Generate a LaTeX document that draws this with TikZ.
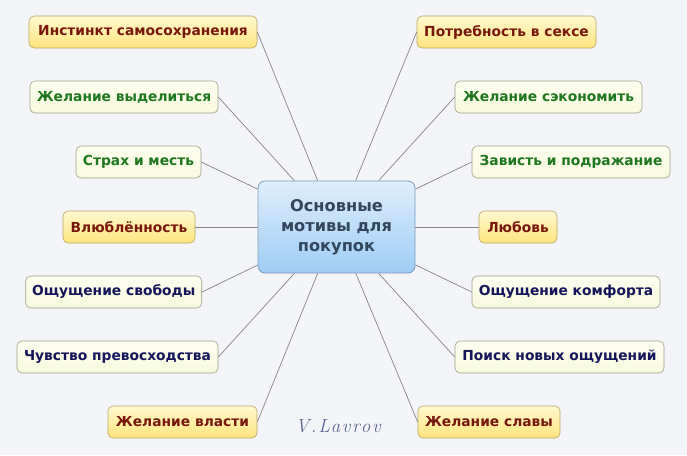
\documentclass[tikz,border=0pt]{standalone}
\usepackage{fontspec}
\setmainfont{DejaVu Sans}
\newfontfamily\signfont[LetterSpace=9]{Latin Modern Roman}
\usepackage{tikz}
\usepackage{xcolor}

\definecolor{paper}{HTML}{F3F5F8}
\definecolor{wire}{HTML}{858585}
\definecolor{motivered}{HTML}{7A170C}
\definecolor{motivegreen}{HTML}{1E781E}
\definecolor{motivenavy}{HTML}{15155C}
\definecolor{centertext}{HTML}{33475C}

\begin{document}
\begin{tikzpicture}[x=1pt,y=-1pt,line width=0.7pt]
\tikzstyle{leaf}=[rounded corners=5pt,minimum height=32pt,inner xsep=0pt,
  font=\fontsize{13.8}{16}\selectfont\bfseries,line width=0.6pt]
\tikzstyle{hot}=[leaf,draw={rgb,255:red,185;green,165;blue,105},
  top color={rgb,255:red,255;green,249;blue,208},
  bottom color={rgb,255:red,255;green,228;blue,125},text=motivered]
\tikzstyle{mild}=[leaf,draw={rgb,255:red,160;green,160;blue,135},
  top color={rgb,255:red,254;green,254;blue,240},
  bottom color={rgb,255:red,247;green,250;blue,220}]
\tikzstyle{mainbox}=[rounded corners=7pt,minimum width=157pt,minimum height=92pt,
  align=center,draw={rgb,255:red,120;green,155;blue,190},line width=0.8pt,
  top color={rgb,255:red,222;green,238;blue,252},
  bottom color={rgb,255:red,160;green,204;blue,244},
  text=centertext,font=\fontsize{16.2}{20}\selectfont\bfseries]

\fill[paper] (0,0) rectangle (687,455);
\useasboundingbox (0,0) rectangle (687,455);

\node[mainbox] (C) at (336.5,227) {Основные\\мотивы для\\покупок};

% left side
\node[hot,minimum width=228pt]                  (inst)  at (143,32)    {Инстинкт самосохранения};
\node[mild,minimum width=188pt,text=motivegreen] (vydel) at (124,97)    {Желание выделиться};
\node[mild,minimum width=125pt,text=motivegreen] (strah) at (138.5,162) {Страх и месть};
\node[hot,minimum width=132pt]                  (vlub)  at (129,227)   {Влюблённость};
\node[mild,minimum width=176pt,text=motivenavy]  (svob)  at (113.7,292) {Ощущение свободы};
\node[mild,minimum width=201pt,text=motivenavy]  (prev)  at (117.5,357) {Чувство превосходства};
\node[hot,minimum width=149pt]                  (vlast) at (182.5,422) {Желание власти};

% right side
\node[hot,minimum width=179pt]                  (seks)  at (506.5,32)  {Потребность в сексе};
\node[mild,minimum width=187pt,text=motivegreen] (ekon)  at (548.5,97)  {Желание сэкономить};
\node[mild,minimum width=198pt,text=motivegreen] (zavis) at (571,162)   {Зависть и подражание};
\node[hot,minimum width=78pt]                   (lyub)  at (518,227)   {Любовь};
\node[mild,minimum width=188pt,text=motivenavy]  (komf)  at (566,292)   {Ощущение комфорта};
\node[mild,minimum width=209pt,text=motivenavy]  (poisk) at (559.5,357) {Поиск новых ощущений};
\node[hot,minimum width=142pt]                  (slava) at (489,422)   {Желание славы};

\node[text={rgb,255:red,92;green,106;blue,145},font=\signfont\itshape\fontsize{19}{21}\selectfont]
  (sign) at (338,426) {V.Lavrov};

\path[draw=wire]
(C) edge (inst.east)
    edge (vydel.east)
    edge (strah.east)
    edge (vlub.east)
    edge (svob.east)
    edge (prev.east)
    edge (vlast.east)
    edge (seks.west)
    edge (ekon.west)
    edge (zavis.west)
    edge (lyub.west)
    edge (komf.west)
    edge (poisk.west)
    edge (slava.west);
\end{tikzpicture}
\end{document}
